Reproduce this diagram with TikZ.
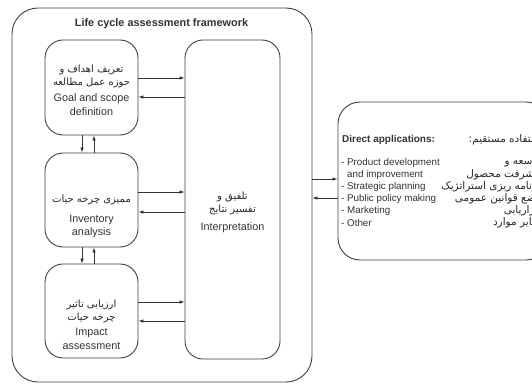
\documentclass[tikz,border=0pt]{standalone}
\usepackage{fontspec}
\setmainfont{Liberation Sans}
\newfontfamily\fa[Script=Arabic]{DejaVu Sans}
\TeXXeTstate=1
\usetikzlibrary{arrows.meta}
\begin{document}
\begin{tikzpicture}[x=1pt,y=-1pt,
  box/.style={draw=black!75, line width=0.9pt, rounded corners=18pt, inner sep=0pt, fill=white},
  arr/.style={draw=black!80, line width=0.7pt, -{Latex[length=5pt,width=3.5pt]}},
  entxt/.style={text=black!80, font=\fontsize{10.8}{12}\selectfont, inner sep=0pt},
  fatxt/.style={text=black!85, font=\fa\fontsize{10}{12}\selectfont, inner sep=0pt},
  lsttxt/.style={text=black!80, font=\fontsize{9.8}{12}\selectfont, inner sep=0pt, anchor=west},
  falst/.style={text=black!85, font=\fa\fontsize{10.5}{12}\selectfont, inner sep=0pt, anchor=east}]
\useasboundingbox (0,0) rectangle (532,385);
\clip (0,0) rectangle (532,385);
% boxes
\node[box, rounded corners=26pt, minimum width=300pt, minimum height=374pt] (outer) at (162,195) {};
\node[box, minimum width=93pt, minimum height=95pt] (goal) at (91.5,87.5) {};
\node[box, minimum width=93pt, minimum height=94pt] (inv) at (91.5,200) {};
\node[box, minimum width=93pt, minimum height=94pt] (imp) at (91.5,311) {};
\node[box, minimum width=95pt, minimum height=319pt] (interp) at (232.5,199.5) {};
\node[box, rounded corners=22pt, minimum width=210pt, minimum height=158pt] (apps) at (443,181) {};
% title
\node[entxt, font=\bfseries\fontsize{10.9}{12}\selectfont] (title) at (161.5,24) {Life cycle assessment framework};
% goal text
\node[fatxt] (g1) at (91.5,70) {\beginR تعریف اهداف و\endR};
\node[fatxt] (g2) at (91.5,83) {\beginR حوزه عمل مطالعه\endR};
\node[entxt] (g3) at (91.5,99) {Goal and scope};
\node[entxt] (g4) at (91.5,112) {definition};
% inventory text
\node[fatxt] (i1) at (91.5,200) {\beginR ممیزی چرخه حیات\endR};
\node[entxt] (i2) at (91.5,220) {Inventory};
\node[entxt] (i3) at (91.5,233) {analysis};
% impact text
\node[fatxt] (m1) at (91.5,305) {\beginR ارزیابی تاثیر\endR};
\node[fatxt] (m2) at (91.5,318) {\beginR چرخه حیات\endR};
\node[entxt] (m3) at (91.5,333) {Impact};
\node[entxt] (m4) at (91.5,346) {assessment};
% interpretation text
\node[fatxt] (t1) at (232.5,197) {\beginR تلفیق و\endR};
\node[fatxt] (t2) at (232.5,210) {\beginR تفسیر نتایج\endR};
\node[entxt] (t3) at (232.5,228) {Interpretation};
% direct applications
\node[lsttxt, font=\bfseries\fontsize{10}{12}\selectfont] (da) at (342,140) {Direct applications:};
\node[falst] (dafa) at (543,140) {\beginR استفاده مستقیم:\endR};
\node[lsttxt] (l1) at (341,163) {- Product development};
\node[lsttxt] (l2) at (347,175) {and improvement};
\node[lsttxt] (l3) at (341,187) {- Strategic planning};
\node[lsttxt] (l4) at (341,199) {- Public policy making};
\node[lsttxt] (l5) at (341,211) {- Marketing};
\node[lsttxt] (l6) at (341,223) {- Other};
\node[falst] (f1) at (541,163) {\beginR توسعه و\endR};
\node[falst] (f2) at (541,175) {\beginR پیشرفت محصول\endR};
\node[falst] (f3) at (541,187) {\beginR برنامه ریزی استراتژیک\endR};
\node[falst] (f4) at (541,199) {\beginR وضع قوانین عمومی\endR};
\node[falst] (f5) at (541,211) {\beginR بازاریابی\endR};
\node[falst] (f6) at (541,223) {\beginR سایر موارد\endR};
% horizontal arrows
\draw[arr] (goal.east |- 0,78) -- (interp.west |- 0,78);
\draw[arr] (interp.west |- 0,97) -- (goal.east |- 0,97);
\draw[arr] (inv.east |- 0,192) -- (interp.west |- 0,192);
\draw[arr] (interp.west |- 0,212) -- (inv.east |- 0,212);
\draw[arr] (imp.east |- 0,302) -- (interp.west |- 0,302);
\draw[arr] (interp.west |- 0,321) -- (imp.east |- 0,321);
% vertical arrows
\draw[arr] (goal.south -| 82,0) -- (inv.north -| 82,0);
\draw[arr] (inv.north -| 94,0) -- (goal.south -| 94,0);
\draw[arr] (inv.south -| 82,0) -- (imp.north -| 82,0);
\draw[arr] (imp.north -| 94,0) -- (inv.south -| 94,0);
% outer to applications
\draw[arr] (outer.east |- 0,179) -- (apps.west |- 0,179);
\draw[arr] (apps.west |- 0,198) -- (outer.east |- 0,198);
\end{tikzpicture}
\end{document}
